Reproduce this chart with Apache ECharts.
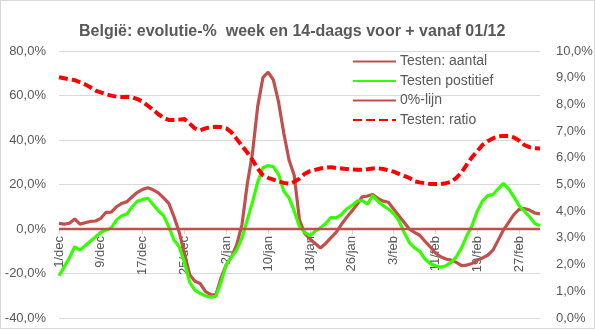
<!DOCTYPE html>
<html>
<head>
<meta charset="utf-8">
<script src="https://cdn.jsdelivr.net/npm/echarts@6/dist/echarts.min.js"></script>
<style>
html,body{margin:0;padding:0;background:#fff;}
#wrap{position:relative;width:595px;height:329px;}
#chart{position:absolute;left:0;top:0;width:595px;height:329px;}
#frame{position:absolute;left:0;top:0;width:595px;height:329px;box-sizing:border-box;border:1px solid #d9d9d9;pointer-events:none;}
</style>
</head>
<body>
<div id="wrap"><div id="chart"></div><div id="frame"></div></div>
<script>
// Categories: 1 dec .. 3 mar
const categories = [
 "1/dec","2/dec","3/dec","4/dec","5/dec","6/dec","7/dec","8/dec","9/dec","10/dec","11/dec","12/dec","13/dec","14/dec","15/dec","16/dec",
 "17/dec","18/dec","19/dec","20/dec","21/dec","22/dec","23/dec","24/dec","25/dec","26/dec","27/dec","28/dec","29/dec","30/dec","31/dec",
 "1/jan","2/jan","3/jan","4/jan","5/jan","6/jan","7/jan","8/jan","9/jan","10/jan","11/jan","12/jan","13/jan","14/jan","15/jan","16/jan",
 "17/jan","18/jan","19/jan","20/jan","21/jan","22/jan","23/jan","24/jan","25/jan","26/jan","27/jan","28/jan","29/jan","30/jan","31/jan",
 "1/feb","2/feb","3/feb","4/feb","5/feb","6/feb","7/feb","8/feb","9/feb","10/feb","11/feb","12/feb","13/feb","14/feb","15/feb","16/feb",
 "17/feb","18/feb","19/feb","20/feb","21/feb","22/feb","23/feb","24/feb","25/feb","26/feb","27/feb","28/feb",
 "1/mar","2/mar","3/mar"
];

// Testen: aantal (%)
const testenAantal = [
 2.5,2.2,2.6,4.5,2.2,2.8,3.4,3.6,4.8,7.5,7.6,10.0,11.5,12.3,14.5,16.5,
 17.8,18.5,17.6,16.2,14.0,11.5,5.5,-1.5,-11,-20.5,-23.5,-24.5,-28,-29.5,-29.6,
 -22,-16,-12.5,-7,2,20,34,55,68,70.5,67,57,43,31,24,
 4,-2,-4.5,-6.5,-8.5,-6.5,-4,-1.5,2,5.2,8,11,14.5,14.8,15.5,13.8,
 12.5,12,9,6,3,0,-1.5,-2.8,-5.5,-8,-10.8,-12.5,-13.5,-14,-15,-16.5,
 -16.2,-15.5,-14,-13,-11.8,-9.5,-5,-0.5,3,6.5,8.8,9.2,
 8.5,7.2,6.8
];

// Testen postitief (%)
const testenPositief = [
 -21,-17,-13,-8,-9.5,-7.5,-5.5,-3.5,-1.5,-0.5,0.5,4,6,6.8,10,12.5,
 13.3,13.8,11,8.2,6,1,-5,-8,-15,-24,-27.5,-29,-30,-30.6,-30.3,
 -24,-16,-12.5,-9.5,-4,4,12,21,27.5,28.5,28,24.5,17,14,8,
 1,-1.5,-3,-1,0.5,2.5,5.2,5,6.5,9,10.5,12.5,12.8,11.2,15,12.5,
 10.5,9,7,3.8,-1.5,-6,-8.5,-10,-13.5,-15.5,-16.5,-17.2,-16.5,-15,-12.5,-8.5,
 -3,1.5,8,12.5,15,15.5,18,20.5,18,14.5,10.5,8,
 5.5,2.5,1.5
];

// 0%-lijn
const nulLijn = categories.map(() => 0);

// Testen: ratio (%), right axis
const testenRatio = [
 9.02,8.98,8.94,8.91,8.83,8.75,8.64,8.52,8.45,8.38,8.33,8.29,8.28,8.29,8.27,8.2,
 8.1,7.95,7.8,7.63,7.5,7.42,7.42,7.43,7.45,7.28,7.1,7.03,7.1,7.15,7.16,
 7.15,7.1,6.95,6.7,6.45,6.2,5.92,5.6,5.35,5.25,5.18,5.12,5.06,5.03,5.1,
 5.22,5.4,5.5,5.55,5.6,5.63,5.65,5.62,5.6,5.58,5.56,5.55,5.55,5.57,5.6,5.61,
 5.58,5.53,5.48,5.4,5.32,5.25,5.12,5.08,5.05,5.02,5.02,5.02,5.05,5.1,5.25,5.45,
 5.75,6.02,6.25,6.48,6.62,6.73,6.8,6.82,6.82,6.76,6.65,6.48,
 6.4,6.36,6.35
];

const leftTicks = {min: -40, max: 80, interval: 20};
const rightTicks = {min: 0, max: 10, interval: 1};

const pct = v => v.toFixed(1).replace('.', ',') + '%';
const FONT = 'Liberation Sans, Arial, sans-serif';
const TXT = '#595959';

const GRID_TOP = 51, GRID_BOTTOM = 11, H = 329;
const plotH = H - GRID_TOP - GRID_BOTTOM;
// offset that puts the category axis at the 0% level of the left axis
const zeroOffset = -plotH * (0 - leftTicks.min) / (leftTicks.max - leftTicks.min);

const chart = echarts.init(document.getElementById('chart'), null, {renderer: 'canvas'});
chart.setOption({
  animation: false,
  backgroundColor: '#fff',
  title: {
    text: 'België: evolutie-%  week en 14-daags voor + vanaf 01/12',
    left: 74, top: 19,
    textStyle: {fontFamily: FONT, fontSize: 16, fontWeight: 'bold', color: TXT}
  },
  legend: {
    orient: 'vertical', left: 352, top: 54.5, padding: 0,
    itemWidth: 43, itemHeight: 14, itemGap: 5.5,
    itemStyle: {opacity: 0},
    textStyle: {fontFamily: FONT, fontSize: 14, color: TXT, padding: [0,0,0,-1]},
    data: ['Testen: aantal', 'Testen postitief', '0%-lijn', 'Testen: ratio']
  },
  grid: {left: 59, right: 55, top: GRID_TOP, bottom: GRID_BOTTOM, containLabel: false, outerBoundsMode: 'none'},
  xAxis: {
    type: 'category', data: categories, boundaryGap: false,
    position: 'bottom', offset: zeroOffset,
    axisLine: {onZero: false, lineStyle: {color: '#d9d9d9', width: 1}},
    axisTick: {show: true, interval: 7, length: 5, lineStyle: {color: '#d9d9d9'}},
    axisLabel: {interval: 7, rotate: 90, margin: 7, color: TXT, fontFamily: FONT, fontSize: 13},
    splitLine: {show: false}
  },
  yAxis: [
    {
      type: 'value', min: leftTicks.min, max: leftTicks.max, interval: leftTicks.interval,
      axisLine: {show: false}, axisTick: {show: false},
      axisLabel: {formatter: pct, color: TXT, fontFamily: FONT, fontSize: 13, margin: 13},
      splitLine: {show: true, lineStyle: {color: '#d9d9d9', width: 1}}
    },
    {
      type: 'value', min: rightTicks.min, max: rightTicks.max, interval: rightTicks.interval,
      position: 'right',
      axisLine: {show: false}, axisTick: {show: false},
      axisLabel: {formatter: pct, color: TXT, fontFamily: FONT, fontSize: 13, margin: 16},
      splitLine: {show: false}
    }
  ],
  series: [
    {
      name: 'Testen: aantal', type: 'line', yAxisIndex: 0, data: testenAantal,
      symbol: 'none', lineStyle: {color: '#c0504d', width: 3.2}, itemStyle: {color: '#c0504d'}
    },
    {
      name: 'Testen postitief', type: 'line', yAxisIndex: 0, data: testenPositief,
      symbol: 'none', lineStyle: {color: '#33ff00', width: 3.2}, itemStyle: {color: '#33ff00'}
    },
    {
      name: '0%-lijn', type: 'line', yAxisIndex: 0, data: nulLijn,
      symbol: 'none', lineStyle: {color: '#c0504d', width: 2.4}, itemStyle: {color: '#c0504d'}
    },
    {
      name: 'Testen: ratio', type: 'line', yAxisIndex: 1, data: testenRatio,
      symbol: 'none', lineStyle: {color: '#ff0000', width: 4, type: [9, 4]}, itemStyle: {color: '#ff0000'}
    }
  ]
});
</script>
</body>
</html>
